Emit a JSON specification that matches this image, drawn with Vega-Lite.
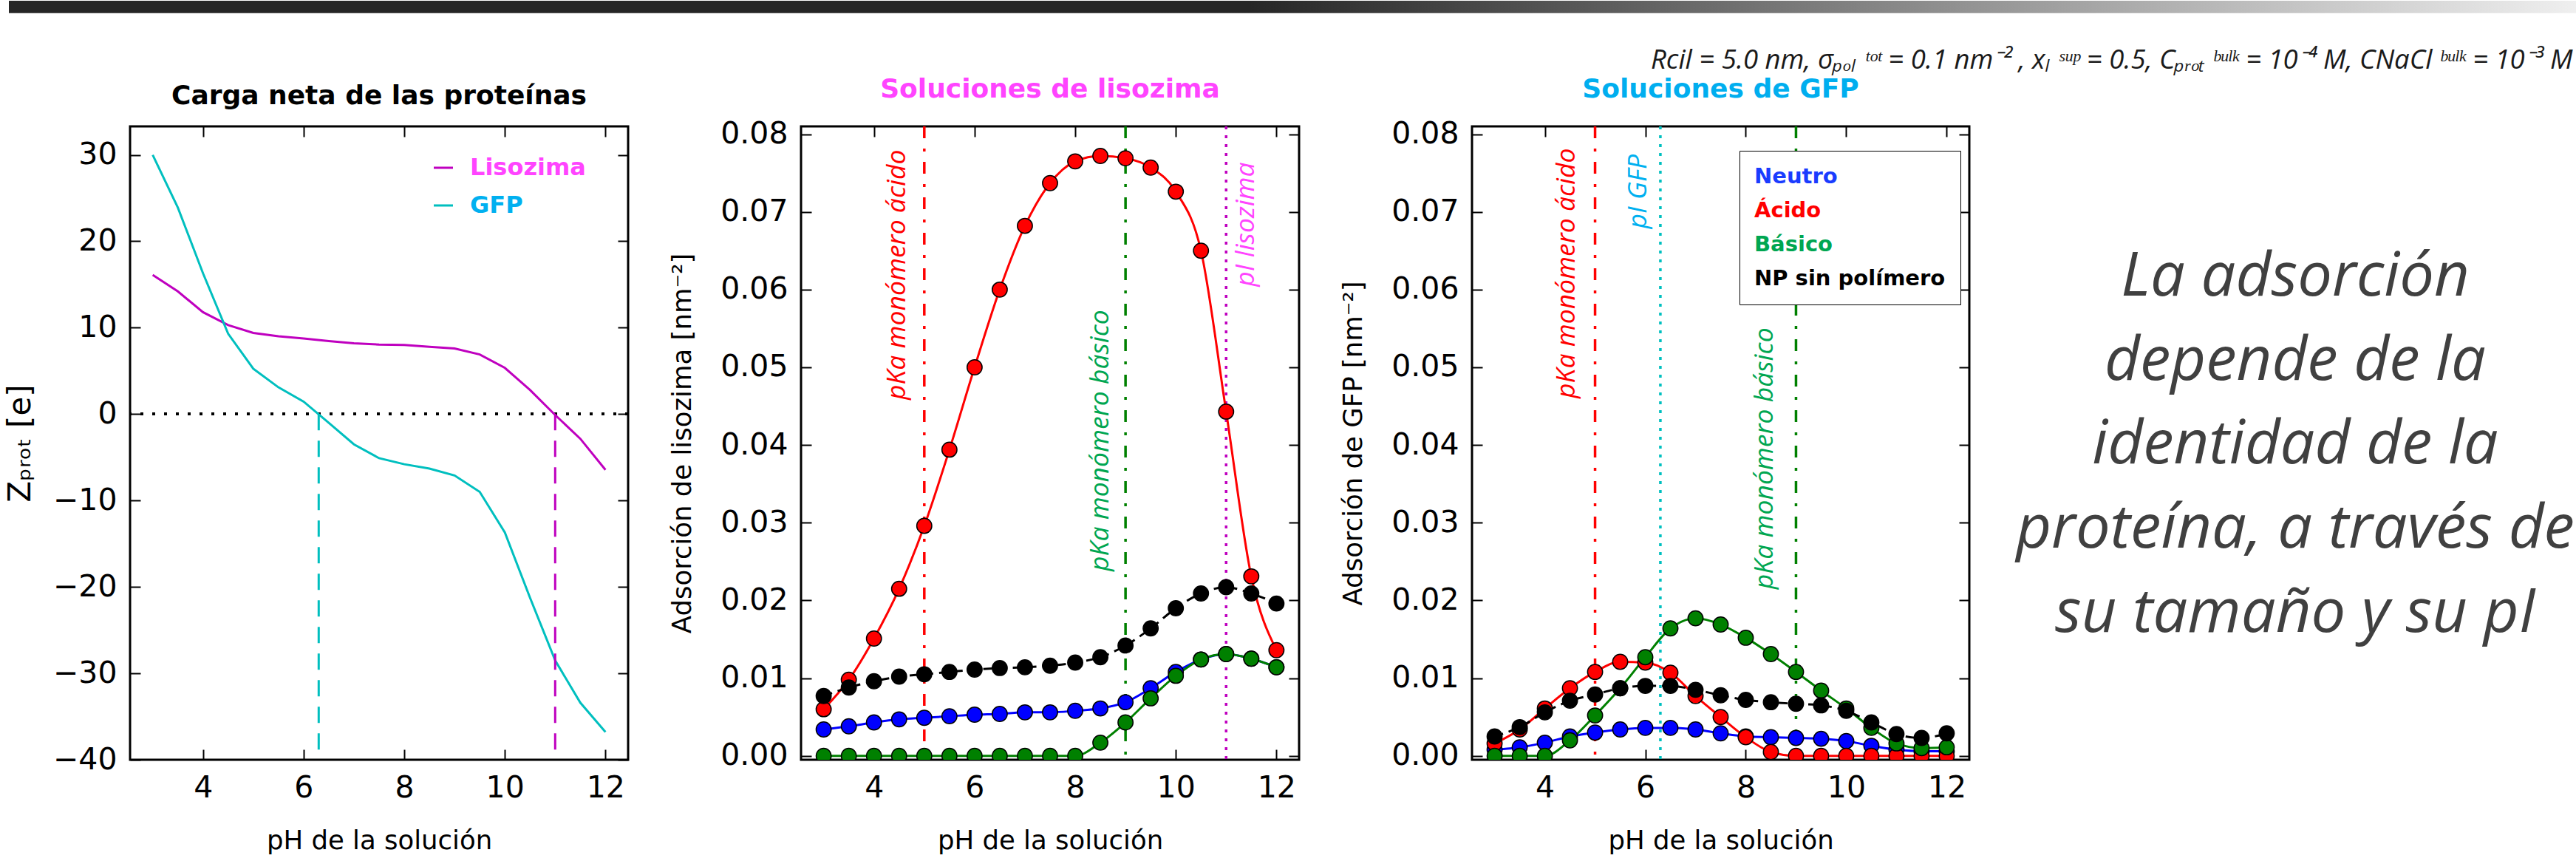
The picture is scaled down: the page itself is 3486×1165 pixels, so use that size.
{
  "$schema": "https://vega.github.io/schema/vega-lite/v6.json",
  "background": "white",
  "padding": {"left": 4, "top": 0, "right": 0, "bottom": 0},
  "spacing": 234,
  "bounds": "flush",
  "datasets": {
    "carga": [
      {"pH": 3, "proteina": "Lisozima", "Z": 16.1}, {"pH": 3.5, "proteina": "Lisozima", "Z": 14.2}, {"pH": 4, "proteina": "Lisozima", "Z": 11.8}, {"pH": 4.5, "proteina": "Lisozima", "Z": 10.3}, {"pH": 5, "proteina": "Lisozima", "Z": 9.4}, {"pH": 5.5, "proteina": "Lisozima", "Z": 9.0}, {"pH": 6, "proteina": "Lisozima", "Z": 8.75}, {"pH": 6.5, "proteina": "Lisozima", "Z": 8.45}, {"pH": 7, "proteina": "Lisozima", "Z": 8.2}, {"pH": 7.5, "proteina": "Lisozima", "Z": 8.05}, {"pH": 8, "proteina": "Lisozima", "Z": 8.0}, {"pH": 8.5, "proteina": "Lisozima", "Z": 7.8}, {"pH": 9, "proteina": "Lisozima", "Z": 7.6}, {"pH": 9.5, "proteina": "Lisozima", "Z": 6.9}, {"pH": 10, "proteina": "Lisozima", "Z": 5.35}, {"pH": 10.5, "proteina": "Lisozima", "Z": 2.8}, {"pH": 11, "proteina": "Lisozima", "Z": -0.1}, {"pH": 11.5, "proteina": "Lisozima", "Z": -2.85}, {"pH": 12, "proteina": "Lisozima", "Z": -6.45},
      {"pH": 3, "proteina": "GFP", "Z": 30.0}, {"pH": 3.5, "proteina": "GFP", "Z": 23.9}, {"pH": 4, "proteina": "GFP", "Z": 16.3}, {"pH": 4.5, "proteina": "GFP", "Z": 9.3}, {"pH": 5, "proteina": "GFP", "Z": 5.25}, {"pH": 5.5, "proteina": "GFP", "Z": 3.1}, {"pH": 6, "proteina": "GFP", "Z": 1.45}, {"pH": 6.5, "proteina": "GFP", "Z": -1.0}, {"pH": 7, "proteina": "GFP", "Z": -3.5}, {"pH": 7.5, "proteina": "GFP", "Z": -5.1}, {"pH": 8, "proteina": "GFP", "Z": -5.8}, {"pH": 8.5, "proteina": "GFP", "Z": -6.3}, {"pH": 9, "proteina": "GFP", "Z": -7.1}, {"pH": 9.5, "proteina": "GFP", "Z": -9.0}, {"pH": 10, "proteina": "GFP", "Z": -13.7}, {"pH": 10.5, "proteina": "GFP", "Z": -21.25}, {"pH": 11, "proteina": "GFP", "Z": -28.5}, {"pH": 11.5, "proteina": "GFP", "Z": -33.4}, {"pH": 12, "proteina": "GFP", "Z": -36.8}
    ],
    "lis": [
      {"pH": 3, "serie": "Neutro", "ads": 0.0034}, {"pH": 3.5, "serie": "Neutro", "ads": 0.0038}, {"pH": 4, "serie": "Neutro", "ads": 0.0043}, {"pH": 4.5, "serie": "Neutro", "ads": 0.0047}, {"pH": 5, "serie": "Neutro", "ads": 0.0049}, {"pH": 5.5, "serie": "Neutro", "ads": 0.0051}, {"pH": 6, "serie": "Neutro", "ads": 0.0053}, {"pH": 6.5, "serie": "Neutro", "ads": 0.0054}, {"pH": 7, "serie": "Neutro", "ads": 0.0056}, {"pH": 7.5, "serie": "Neutro", "ads": 0.0056}, {"pH": 8, "serie": "Neutro", "ads": 0.0058}, {"pH": 8.5, "serie": "Neutro", "ads": 0.0061}, {"pH": 9, "serie": "Neutro", "ads": 0.0069}, {"pH": 9.5, "serie": "Neutro", "ads": 0.0087}, {"pH": 10, "serie": "Neutro", "ads": 0.0108}, {"pH": 10.5, "serie": "Neutro", "ads": 0.0124}, {"pH": 11, "serie": "Neutro", "ads": 0.0131}, {"pH": 11.5, "serie": "Neutro", "ads": 0.0125}, {"pH": 12, "serie": "Neutro", "ads": 0.0114},
      {"pH": 3, "serie": "Ácido", "ads": 0.0060}, {"pH": 3.5, "serie": "Ácido", "ads": 0.0098}, {"pH": 4, "serie": "Ácido", "ads": 0.0151}, {"pH": 4.5, "serie": "Ácido", "ads": 0.0215}, {"pH": 5, "serie": "Ácido", "ads": 0.0296}, {"pH": 5.5, "serie": "Ácido", "ads": 0.0394}, {"pH": 6, "serie": "Ácido", "ads": 0.0500}, {"pH": 6.5, "serie": "Ácido", "ads": 0.0600}, {"pH": 7, "serie": "Ácido", "ads": 0.0682}, {"pH": 7.5, "serie": "Ácido", "ads": 0.0737}, {"pH": 8, "serie": "Ácido", "ads": 0.0765}, {"pH": 8.5, "serie": "Ácido", "ads": 0.0772}, {"pH": 9, "serie": "Ácido", "ads": 0.0769}, {"pH": 9.5, "serie": "Ácido", "ads": 0.0757}, {"pH": 10, "serie": "Ácido", "ads": 0.0726}, {"pH": 10.5, "serie": "Ácido", "ads": 0.0650}, {"pH": 11, "serie": "Ácido", "ads": 0.0443}, {"pH": 11.5, "serie": "Ácido", "ads": 0.0231}, {"pH": 12, "serie": "Ácido", "ads": 0.0136},
      {"pH": 3, "serie": "Básico", "ads": 0}, {"pH": 3.5, "serie": "Básico", "ads": 0}, {"pH": 4, "serie": "Básico", "ads": 0}, {"pH": 4.5, "serie": "Básico", "ads": 0}, {"pH": 5, "serie": "Básico", "ads": 0}, {"pH": 5.5, "serie": "Básico", "ads": 0}, {"pH": 6, "serie": "Básico", "ads": 0}, {"pH": 6.5, "serie": "Básico", "ads": 0}, {"pH": 7, "serie": "Básico", "ads": 0}, {"pH": 7.5, "serie": "Básico", "ads": 0}, {"pH": 8, "serie": "Básico", "ads": 0}, {"pH": 8.5, "serie": "Básico", "ads": 0.0017}, {"pH": 9, "serie": "Básico", "ads": 0.0043}, {"pH": 9.5, "serie": "Básico", "ads": 0.0074}, {"pH": 10, "serie": "Básico", "ads": 0.0103}, {"pH": 10.5, "serie": "Básico", "ads": 0.0124}, {"pH": 11, "serie": "Básico", "ads": 0.0131}, {"pH": 11.5, "serie": "Básico", "ads": 0.0125}, {"pH": 12, "serie": "Básico", "ads": 0.0114},
      {"pH": 3, "serie": "NP sin polímero", "ads": 0.0077}, {"pH": 3.5, "serie": "NP sin polímero", "ads": 0.0088}, {"pH": 4, "serie": "NP sin polímero", "ads": 0.0096}, {"pH": 4.5, "serie": "NP sin polímero", "ads": 0.0102}, {"pH": 5, "serie": "NP sin polímero", "ads": 0.0105}, {"pH": 5.5, "serie": "NP sin polímero", "ads": 0.0108}, {"pH": 6, "serie": "NP sin polímero", "ads": 0.0111}, {"pH": 6.5, "serie": "NP sin polímero", "ads": 0.0113}, {"pH": 7, "serie": "NP sin polímero", "ads": 0.0114}, {"pH": 7.5, "serie": "NP sin polímero", "ads": 0.0116}, {"pH": 8, "serie": "NP sin polímero", "ads": 0.0120}, {"pH": 8.5, "serie": "NP sin polímero", "ads": 0.0127}, {"pH": 9, "serie": "NP sin polímero", "ads": 0.0142}, {"pH": 9.5, "serie": "NP sin polímero", "ads": 0.0164}, {"pH": 10, "serie": "NP sin polímero", "ads": 0.0190}, {"pH": 10.5, "serie": "NP sin polímero", "ads": 0.0209}, {"pH": 11, "serie": "NP sin polímero", "ads": 0.0217}, {"pH": 11.5, "serie": "NP sin polímero", "ads": 0.0209}, {"pH": 12, "serie": "NP sin polímero", "ads": 0.0196}
    ],
    "gfp": [
      {"pH": 3, "serie": "Neutro", "ads": 0.0008}, {"pH": 3.5, "serie": "Neutro", "ads": 0.0011}, {"pH": 4, "serie": "Neutro", "ads": 0.0017}, {"pH": 4.5, "serie": "Neutro", "ads": 0.0025}, {"pH": 5, "serie": "Neutro", "ads": 0.0030}, {"pH": 5.5, "serie": "Neutro", "ads": 0.0034}, {"pH": 6, "serie": "Neutro", "ads": 0.0036}, {"pH": 6.5, "serie": "Neutro", "ads": 0.0036}, {"pH": 7, "serie": "Neutro", "ads": 0.0034}, {"pH": 7.5, "serie": "Neutro", "ads": 0.0029}, {"pH": 8, "serie": "Neutro", "ads": 0.0025}, {"pH": 8.5, "serie": "Neutro", "ads": 0.0024}, {"pH": 9, "serie": "Neutro", "ads": 0.0023}, {"pH": 9.5, "serie": "Neutro", "ads": 0.0022}, {"pH": 10, "serie": "Neutro", "ads": 0.0019}, {"pH": 10.5, "serie": "Neutro", "ads": 0.0013}, {"pH": 11, "serie": "Neutro", "ads": 0.0008}, {"pH": 11.5, "serie": "Neutro", "ads": 0.0006}, {"pH": 12, "serie": "Neutro", "ads": 0.0006},
      {"pH": 3, "serie": "Ácido", "ads": 0.0016}, {"pH": 3.5, "serie": "Ácido", "ads": 0.0034}, {"pH": 4, "serie": "Ácido", "ads": 0.0061}, {"pH": 4.5, "serie": "Ácido", "ads": 0.0087}, {"pH": 5, "serie": "Ácido", "ads": 0.0108}, {"pH": 5.5, "serie": "Ácido", "ads": 0.0121}, {"pH": 6, "serie": "Ácido", "ads": 0.0120}, {"pH": 6.5, "serie": "Ácido", "ads": 0.0107}, {"pH": 7, "serie": "Ácido", "ads": 0.0077}, {"pH": 7.5, "serie": "Ácido", "ads": 0.0050}, {"pH": 8, "serie": "Ácido", "ads": 0.0024}, {"pH": 8.5, "serie": "Ácido", "ads": 0.0005}, {"pH": 9, "serie": "Ácido", "ads": 0}, {"pH": 9.5, "serie": "Ácido", "ads": 0}, {"pH": 10, "serie": "Ácido", "ads": 0}, {"pH": 10.5, "serie": "Ácido", "ads": 0}, {"pH": 11, "serie": "Ácido", "ads": 0}, {"pH": 11.5, "serie": "Ácido", "ads": 0}, {"pH": 12, "serie": "Ácido", "ads": 0},
      {"pH": 3, "serie": "Básico", "ads": 0}, {"pH": 3.5, "serie": "Básico", "ads": 0}, {"pH": 4, "serie": "Básico", "ads": 0}, {"pH": 4.5, "serie": "Básico", "ads": 0.0020}, {"pH": 5, "serie": "Básico", "ads": 0.0052}, {"pH": 5.5, "serie": "Básico", "ads": 0.0087}, {"pH": 6, "serie": "Básico", "ads": 0.0127}, {"pH": 6.5, "serie": "Básico", "ads": 0.0164}, {"pH": 7, "serie": "Básico", "ads": 0.0177}, {"pH": 7.5, "serie": "Básico", "ads": 0.0169}, {"pH": 8, "serie": "Básico", "ads": 0.0152}, {"pH": 8.5, "serie": "Básico", "ads": 0.0131}, {"pH": 9, "serie": "Básico", "ads": 0.0108}, {"pH": 9.5, "serie": "Básico", "ads": 0.0084}, {"pH": 10, "serie": "Básico", "ads": 0.0061}, {"pH": 10.5, "serie": "Básico", "ads": 0.0036}, {"pH": 11, "serie": "Básico", "ads": 0.0016}, {"pH": 11.5, "serie": "Básico", "ads": 0.0010}, {"pH": 12, "serie": "Básico", "ads": 0.0011},
      {"pH": 3, "serie": "NP sin polímero", "ads": 0.0025}, {"pH": 3.5, "serie": "NP sin polímero", "ads": 0.0037}, {"pH": 4, "serie": "NP sin polímero", "ads": 0.0056}, {"pH": 4.5, "serie": "NP sin polímero", "ads": 0.0071}, {"pH": 5, "serie": "NP sin polímero", "ads": 0.0079}, {"pH": 5.5, "serie": "NP sin polímero", "ads": 0.0087}, {"pH": 6, "serie": "NP sin polímero", "ads": 0.0090}, {"pH": 6.5, "serie": "NP sin polímero", "ads": 0.0090}, {"pH": 7, "serie": "NP sin polímero", "ads": 0.0085}, {"pH": 7.5, "serie": "NP sin polímero", "ads": 0.0078}, {"pH": 8, "serie": "NP sin polímero", "ads": 0.0072}, {"pH": 8.5, "serie": "NP sin polímero", "ads": 0.0069}, {"pH": 9, "serie": "NP sin polímero", "ads": 0.0067}, {"pH": 9.5, "serie": "NP sin polímero", "ads": 0.0065}, {"pH": 10, "serie": "NP sin polímero", "ads": 0.0058}, {"pH": 10.5, "serie": "NP sin polímero", "ads": 0.0043}, {"pH": 11, "serie": "NP sin polímero", "ads": 0.0028}, {"pH": 11.5, "serie": "NP sin polímero", "ads": 0.0023}, {"pH": 12, "serie": "NP sin polímero", "ads": 0.0029}
    ]
  },
  "hconcat": [
    {
      "width": 674, "height": 857,
      "title": {"text": "Carga neta de las proteínas", "color": "black"},
      "data": {"name": "carga"},
      "resolve": {"axis": {"x": "independent", "y": "independent"}},
      "layer": [
        {
          "mark": {"type": "rule", "color": "black", "strokeWidth": 3.5, "strokeDash": [4, 12]},
          "encoding": {
            "y": {"datum": 0, "type": "quantitative", "scale": {"domain": [-40, 33.3], "nice": false, "zero": false}, "axis": null}
          }
        },
        {
          "mark": {"type": "line", "strokeWidth": 3},
          "encoding": {
            "x": {"field": "pH", "type": "quantitative", "scale": {"domain": [2.55, 12.45], "nice": false, "zero": false}, "axis": {"values": [4, 6, 8, 10, 12], "title": "pH de la solución"}},
            "y": {"field": "Z", "type": "quantitative", "scale": {"domain": [-40, 33.3], "nice": false, "zero": false}, "axis": {"values": [-40, -30, -20, -10, 0, 10, 20, 30], "title": "Zₚᵣₒₜ [e]", "titleFontSize": 42, "titlePadding": 22}},
            "color": {"field": "proteina", "type": "nominal", "scale": {"domain": ["Lisozima", "GFP"], "range": ["#bf00bf", "#00bfbf"]},
              "legend": {"orient": "none", "legendX": 408, "legendY": 40, "title": null, "padding": 0, "symbolType": "stroke", "symbolSize": 676, "symbolStrokeWidth": 3, "labelOffset": 20, "labelFont": "DejaVu Sans", "labelFontWeight": "bold", "labelFontSize": 32, "labelLimit": 400, "rowPadding": 19, "labelColor": {"expr": "datum.value === 'GFP' ? '#00b0f0' : '#ff44ff'"}}}
          }
        },
        {
          "data": {"values": [{"pH": 6.3, "proteina": "GFP"}, {"pH": 11, "proteina": "Lisozima"}]},
          "mark": {"type": "rule", "strokeWidth": 3, "strokeDash": [22, 14]},
          "encoding": {
            "x": {"field": "pH", "type": "quantitative", "scale": {"domain": [2.55, 12.45], "nice": false, "zero": false}, "axis": {"orient": "top", "values": [4, 6, 8, 10, 12], "labels": false, "title": null}},
            "y": {"datum": 0, "type": "quantitative", "scale": {"domain": [-40, 33.3], "nice": false, "zero": false}, "axis": {"orient": "right", "values": [-40, -30, -20, -10, 0, 10, 20, 30], "labels": false, "title": null}},
            "y2": {"datum": -40},
            "color": {"field": "proteina", "type": "nominal", "legend": null}
          }
        }
      ]
    },
    {
      "width": 674, "height": 857,
      "title": {"text": "Soluciones de lisozima", "color": "#ff44ff"},
      "data": {"name": "lis"},
      "resolve": {"axis": {"x": "independent", "y": "independent"}},
      "layer": [
        {
          "data": {"values": [{"pH": 5}]},
          "mark": {"type": "rule", "color": "#ff0000", "strokeWidth": 3.5, "strokeDash": [16, 14, 4, 14]},
          "encoding": {"x": {"field": "pH", "type": "quantitative", "scale": {"domain": [2.55, 12.45], "nice": false, "zero": false}, "axis": {"orient": "top", "values": [4, 6, 8, 10, 12], "labels": false, "title": null}}}
        },
        {
          "data": {"values": [{"pH": 9}]},
          "mark": {"type": "rule", "color": "#008000", "strokeWidth": 3.5, "strokeDash": [16, 14, 4, 14]},
          "encoding": {"x": {"field": "pH", "type": "quantitative", "scale": {"domain": [2.55, 12.45], "nice": false, "zero": false}, "axis": null}}
        },
        {
          "data": {"values": [{"pH": 11}]},
          "mark": {"type": "rule", "color": "#bf00bf", "strokeWidth": 3.5, "strokeDash": [4, 8]},
          "encoding": {"x": {"field": "pH", "type": "quantitative", "scale": {"domain": [2.55, 12.45], "nice": false, "zero": false}, "axis": null}}
        },
        {
          "transform": [{"filter": "datum.serie !== 'NP sin polímero'"}],
          "mark": {"type": "line", "strokeWidth": 3, "interpolate": "monotone", "clip": true},
          "encoding": {
            "x": {"field": "pH", "type": "quantitative", "scale": {"domain": [2.55, 12.45], "nice": false, "zero": false}, "axis": {"values": [4, 6, 8, 10, 12], "title": "pH de la solución"}},
            "y": {"field": "ads", "type": "quantitative", "scale": {"domain": [-0.0005, 0.081], "nice": false, "zero": false}, "axis": {"values": [0, 0.01, 0.02, 0.03, 0.04, 0.05, 0.06, 0.07, 0.08], "format": ".2f", "title": "Adsorción de lisozima [nm⁻²]"}},
            "color": {"field": "serie", "type": "nominal", "scale": {"domain": ["Neutro", "Ácido", "Básico", "NP sin polímero"], "range": ["#0000ff", "#ff0000", "#008000", "#000000"]}, "legend": null}
          }
        },
        {
          "transform": [{"filter": "datum.serie === 'NP sin polímero'"}],
          "mark": {"type": "line", "strokeWidth": 3, "strokeDash": [12, 8], "interpolate": "monotone", "clip": true},
          "encoding": {
            "x": {"field": "pH", "type": "quantitative", "scale": {"domain": [2.55, 12.45], "nice": false, "zero": false}, "axis": null},
            "y": {"field": "ads", "type": "quantitative", "scale": {"domain": [-0.0005, 0.081], "nice": false, "zero": false}, "axis": null},
            "color": {"field": "serie", "type": "nominal", "legend": null}
          }
        },
        {
          "mark": {"type": "point", "shape": "circle", "filled": true, "size": 415, "opacity": 1, "stroke": "black", "strokeWidth": 1.5, "clip": true},
          "encoding": {
            "x": {"field": "pH", "type": "quantitative", "scale": {"domain": [2.55, 12.45], "nice": false, "zero": false}, "axis": null},
            "y": {"field": "ads", "type": "quantitative", "scale": {"domain": [-0.0005, 0.081], "nice": false, "zero": false}, "axis": {"orient": "right", "values": [0, 0.01, 0.02, 0.03, 0.04, 0.05, 0.06, 0.07, 0.08], "labels": false, "title": null}},
            "color": {"field": "serie", "type": "nominal", "legend": null}
          }
        },
        {
          "data": {"values": [{"pH": 4.62, "ads": 0.078, "texto": "pKa monómero ácido"}]},
          "mark": {"type": "text", "angle": 270, "align": "right", "baseline": "alphabetic", "font": "Open Sans", "fontStyle": "italic", "fontSize": 35.5, "color": "#ff0000"},
          "encoding": {
            "x": {"field": "pH", "type": "quantitative", "scale": {"domain": [2.55, 12.45], "nice": false, "zero": false}, "axis": null},
            "y": {"field": "ads", "type": "quantitative", "scale": {"domain": [-0.0005, 0.081], "nice": false, "zero": false}, "axis": null},
            "text": {"field": "texto"}
          }
        },
        {
          "data": {"values": [{"pH": 8.66, "ads": 0.0574, "texto": "pKa monómero básico"}]},
          "mark": {"type": "text", "angle": 270, "align": "right", "baseline": "alphabetic", "font": "Open Sans", "fontStyle": "italic", "fontSize": 35.5, "color": "#00a651"},
          "encoding": {
            "x": {"field": "pH", "type": "quantitative", "scale": {"domain": [2.55, 12.45], "nice": false, "zero": false}, "axis": null},
            "y": {"field": "ads", "type": "quantitative", "scale": {"domain": [-0.0005, 0.081], "nice": false, "zero": false}, "axis": null},
            "text": {"field": "texto"}
          }
        },
        {
          "data": {"values": [{"pH": 11.55, "ads": 0.0764, "texto": "pI lisozima"}]},
          "mark": {"type": "text", "angle": 270, "align": "right", "baseline": "alphabetic", "font": "Open Sans", "fontStyle": "italic", "fontSize": 35.5, "color": "#ff44ff"},
          "encoding": {
            "x": {"field": "pH", "type": "quantitative", "scale": {"domain": [2.55, 12.45], "nice": false, "zero": false}, "axis": null},
            "y": {"field": "ads", "type": "quantitative", "scale": {"domain": [-0.0005, 0.081], "nice": false, "zero": false}, "axis": null},
            "text": {"field": "texto"}
          }
        }
      ]
    },
    {
      "width": 673, "height": 857,
      "title": {"text": "Soluciones de GFP", "color": "#00aeef"},
      "data": {"name": "gfp"},
      "resolve": {"axis": {"x": "independent", "y": "independent"}},
      "layer": [
        {
          "data": {"values": [{"pH": 5}]},
          "mark": {"type": "rule", "color": "#ff0000", "strokeWidth": 3.5, "strokeDash": [16, 14, 4, 14]},
          "encoding": {"x": {"field": "pH", "type": "quantitative", "scale": {"domain": [2.55, 12.45], "nice": false, "zero": false}, "axis": {"orient": "top", "values": [4, 6, 8, 10, 12], "labels": false, "title": null}}}
        },
        {
          "data": {"values": [{"pH": 9}]},
          "mark": {"type": "rule", "color": "#008000", "strokeWidth": 3.5, "strokeDash": [16, 14, 4, 14]},
          "encoding": {"x": {"field": "pH", "type": "quantitative", "scale": {"domain": [2.55, 12.45], "nice": false, "zero": false}, "axis": null}}
        },
        {
          "data": {"values": [{"pH": 6.3}]},
          "mark": {"type": "rule", "color": "#00bfbf", "strokeWidth": 3.5, "strokeDash": [4, 8]},
          "encoding": {"x": {"field": "pH", "type": "quantitative", "scale": {"domain": [2.55, 12.45], "nice": false, "zero": false}, "axis": null}}
        },
        {
          "transform": [{"filter": "datum.serie !== 'NP sin polímero'"}],
          "mark": {"type": "line", "strokeWidth": 3, "interpolate": "monotone", "clip": true},
          "encoding": {
            "x": {"field": "pH", "type": "quantitative", "scale": {"domain": [2.55, 12.45], "nice": false, "zero": false}, "axis": {"values": [4, 6, 8, 10, 12], "title": "pH de la solución"}},
            "y": {"field": "ads", "type": "quantitative", "scale": {"domain": [-0.0005, 0.081], "nice": false, "zero": false}, "axis": {"values": [0, 0.01, 0.02, 0.03, 0.04, 0.05, 0.06, 0.07, 0.08], "format": ".2f", "title": "Adsorción de GFP [nm⁻²]"}},
            "color": {"field": "serie", "type": "nominal", "scale": {"domain": ["Neutro", "Ácido", "Básico", "NP sin polímero"], "range": ["#0000ff", "#ff0000", "#008000", "#000000"]},
              "legend": {"orient": "none", "legendX": 362, "legendY": 33, "title": null, "padding": 20, "strokeColor": "black", "fillColor": "white", "cornerRadius": 0, "symbolSize": 0, "symbolOpacity": 0, "symbolStrokeWidth": 0, "labelOffset": -29, "labelFont": "DejaVu Sans", "labelFontWeight": "bold", "labelFontSize": 29, "labelLimit": 500, "rowPadding": 16, "labelColor": {"expr": "datum.value === 'Neutro' ? '#1a3cff' : datum.value === 'Ácido' ? '#ff0000' : datum.value === 'Básico' ? '#00a651' : '#000000'"}}}
          }
        },
        {
          "transform": [{"filter": "datum.serie === 'NP sin polímero'"}],
          "mark": {"type": "line", "strokeWidth": 3, "strokeDash": [12, 8], "interpolate": "monotone", "clip": true},
          "encoding": {
            "x": {"field": "pH", "type": "quantitative", "scale": {"domain": [2.55, 12.45], "nice": false, "zero": false}, "axis": null},
            "y": {"field": "ads", "type": "quantitative", "scale": {"domain": [-0.0005, 0.081], "nice": false, "zero": false}, "axis": null},
            "color": {"field": "serie", "type": "nominal", "legend": null}
          }
        },
        {
          "mark": {"type": "point", "shape": "circle", "filled": true, "size": 415, "opacity": 1, "stroke": "black", "strokeWidth": 1.5, "clip": true},
          "encoding": {
            "x": {"field": "pH", "type": "quantitative", "scale": {"domain": [2.55, 12.45], "nice": false, "zero": false}, "axis": null},
            "y": {"field": "ads", "type": "quantitative", "scale": {"domain": [-0.0005, 0.081], "nice": false, "zero": false}, "axis": {"orient": "right", "values": [0, 0.01, 0.02, 0.03, 0.04, 0.05, 0.06, 0.07, 0.08], "labels": false, "title": null}},
            "color": {"field": "serie", "type": "nominal", "legend": null}
          }
        },
        {
          "data": {"values": [{"pH": 4.6, "ads": 0.0782, "texto": "pKa monómero ácido"}]},
          "mark": {"type": "text", "angle": 270, "align": "right", "baseline": "alphabetic", "font": "Open Sans", "fontStyle": "italic", "fontSize": 35.5, "color": "#ff0000"},
          "encoding": {
            "x": {"field": "pH", "type": "quantitative", "scale": {"domain": [2.55, 12.45], "nice": false, "zero": false}, "axis": null},
            "y": {"field": "ads", "type": "quantitative", "scale": {"domain": [-0.0005, 0.081], "nice": false, "zero": false}, "axis": null},
            "text": {"field": "texto"}
          }
        },
        {
          "data": {"values": [{"pH": 6.02, "ads": 0.0774, "texto": "pI GFP"}]},
          "mark": {"type": "text", "angle": 270, "align": "right", "baseline": "alphabetic", "font": "Open Sans", "fontStyle": "italic", "fontSize": 35.5, "color": "#00b0f0"},
          "encoding": {
            "x": {"field": "pH", "type": "quantitative", "scale": {"domain": [2.55, 12.45], "nice": false, "zero": false}, "axis": null},
            "y": {"field": "ads", "type": "quantitative", "scale": {"domain": [-0.0005, 0.081], "nice": false, "zero": false}, "axis": null},
            "text": {"field": "texto"}
          }
        },
        {
          "data": {"values": [{"pH": 8.53, "ads": 0.0551, "texto": "pKa monómero básico"}]},
          "mark": {"type": "text", "angle": 270, "align": "right", "baseline": "alphabetic", "font": "Open Sans", "fontStyle": "italic", "fontSize": 35.5, "color": "#00a651"},
          "encoding": {
            "x": {"field": "pH", "type": "quantitative", "scale": {"domain": [2.55, 12.45], "nice": false, "zero": false}, "axis": null},
            "y": {"field": "ads", "type": "quantitative", "scale": {"domain": [-0.0005, 0.081], "nice": false, "zero": false}, "axis": null},
            "text": {"field": "texto"}
          }
        }
      ]
    },
    {
      "width": 584, "height": 857,
      "view": {"stroke": null},
      "resolve": {"scale": {"y": "independent"}},
      "layer": [
        {
          "data": {"values": [{"elemento": "barra de cabecera"}]},
          "mark": {"type": "rect", "fill": {"gradient": "linear", "x1": 0, "x2": 1, "y1": 0, "y2": 0, "stops": [{"offset": 0, "color": "#262626"}, {"offset": 0.483, "color": "#262626"}, {"offset": 1, "color": "#efefef"}]}},
          "encoding": {
            "x": {"datum": -4.9435, "type": "quantitative", "scale": {"domain": [0, 1], "nice": false, "zero": false}, "axis": null},
            "x2": {"datum": 1.0068},
            "y": {"datum": -0.1984, "type": "quantitative", "scale": {"domain": [0, 1], "reverse": true, "nice": false, "zero": false}, "axis": null},
            "y2": {"datum": -0.1789}
          }
        },
        {
          "data": {"values": [{"texto": "Rcil = 5.0 nm, σₚₒₗ ᵗᵒᵗ = 0.1 nm⁻² , xₗ ˢᵘᵖ = 0.5, Cₚᵣₒₜ ᵇᵘˡᵏ = 10⁻⁴ M, CNaCl ᵇᵘˡᵏ = 10⁻³ M"}]},
          "mark": {"type": "text", "font": "Open Sans", "fontStyle": "italic", "fontSize": 36.5, "color": "#1a1a1a", "align": "left", "baseline": "alphabetic", "limit": 1252, "ellipsis": "\u200b"},
          "encoding": {
            "x": {"datum": -1.1387, "type": "quantitative", "scale": {"domain": [0, 1], "nice": false, "zero": false}, "axis": null},
            "y": {"datum": -0.091, "type": "quantitative", "scale": {"domain": [0, 1], "reverse": true, "nice": false, "zero": false}, "axis": null},
            "text": {"field": "texto"}
          }
        },
        {
          "data": {"values": [{"linea": 1, "texto": "La adsorción"}, {"linea": 2, "texto": "depende de la"}, {"linea": 3, "texto": "identidad de la"}, {"linea": 4, "texto": "proteína, a través de"}, {"linea": 5, "texto": "su tamaño y su pI"}]},
          "mark": {"type": "text", "font": "Open Sans", "fontStyle": "italic", "fontSize": 83, "color": "#404040", "align": "center", "baseline": "alphabetic"},
          "encoding": {
            "x": {"datum": 0.3545, "type": "quantitative", "scale": {"domain": [0, 1], "nice": false, "zero": false}, "axis": null},
            "y": {"field": "linea", "type": "quantitative", "scale": {"domain": [-1.013, 6.521], "reverse": true, "nice": false, "zero": false}, "axis": null},
            "text": {"field": "texto"}
          }
        }
      ]
    }
  ],
  "resolve": {"scale": {"color": "independent"}, "legend": {"color": "independent"}},
  "config": {
    "view": {"stroke": "black", "strokeWidth": 3},
    "axis": {"domain": false, "grid": false, "ticks": true, "tickSize": -14, "tickWidth": 2, "tickColor": "black", "labelFont": "DejaVu Sans", "labelFontSize": 41, "labelColor": "black", "labelPadding": 32, "labelFlush": false, "labelOverlap": false, "titleFont": "DejaVu Sans", "titleFontSize": 35.5, "titleFontWeight": "normal", "titleColor": "black", "zindex": 1},
    "axisX": {"titlePadding": 34},
    "axisY": {"titlePadding": 33},
    "title": {"font": "DejaVu Sans", "fontSize": 36, "fontWeight": "bold", "anchor": "middle", "offset": 21, "baseline": "alphabetic"},
    "legend": {"labelFont": "DejaVu Sans", "labelFontWeight": "bold"}
  }
}
